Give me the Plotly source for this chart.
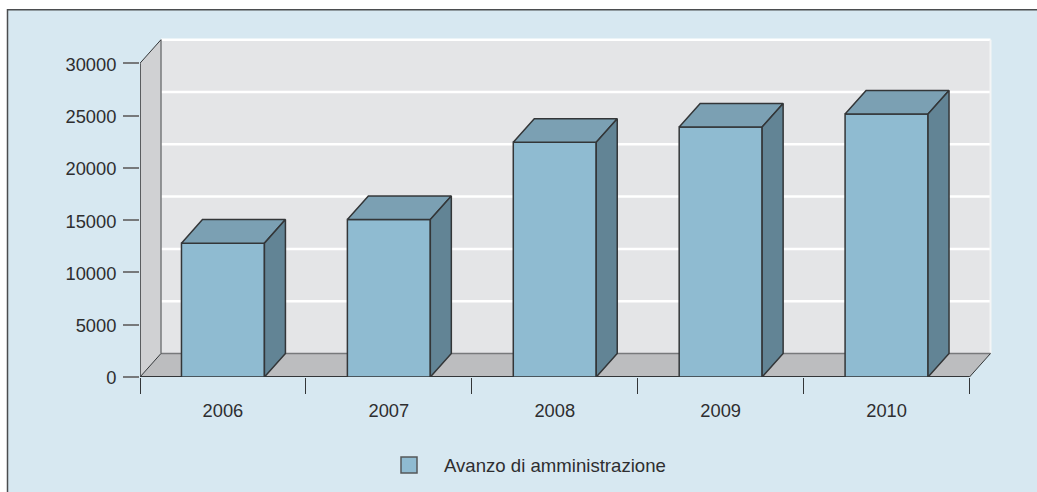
import plotly.graph_objects as go

# Data
years = ["2006", "2007", "2008", "2009", "2010"]
avanzo = [12800, 15050, 22450, 23900, 25150]
y_ticks = [0, 5000, 10000, 15000, 20000, 25000, 30000]
series_name = "Avanzo di amministrazione"

# Style
BG, OUT = "#d7e8f1", "#ffffff"
WALL, SIDEWALL, FLOOR = "#e4e5e7", "#d0d1d3", "#bcbdbf"
FRONT, TOP, SIDE = "#8fbbd1", "#7ba0b3", "#628495"
DARK, GREY, TXT = "#333638", "#77797b", "#2e2e30"
FONT = "Liberation Sans, Arial, sans-serif"
W, H = 1037, 492
ML, MR, MT, MB = 140, 41, 36.1, 115.3
UNIT = 165.9
BAR_W = 0.5
DX = 21 / UNIT      # oblique depth, x units
DY = 23.5 * 30000 / 313.4  # oblique depth, y units
X0, X1 = -0.5, len(years) - 0.5
Y_TOP = y_ticks[-1]
PW, PH = W - ML - MR, H - MT - MB


def px(v):
    return (v - ML) / PW


def py(v):
    return 1 - (v - MT) / PH


def poly(xs, ys):
    pts = list(zip(xs, ys))
    return "M" + "L".join(f"{a},{b}" for a, b in pts) + "Z"


shapes = [
    dict(type="rect", xref="paper", yref="paper", x0=px(7.5), x1=px(W + 20), y0=py(H + 20), y1=py(10),
         fillcolor=BG, line=dict(color="#4b4d4f", width=1.5), layer="below"),
    dict(type="rect", xref="x", yref="y", x0=X0 + DX, x1=X1 + DX, y0=DY, y1=Y_TOP + DY,
         fillcolor=WALL, line=dict(width=0), layer="below"),
    dict(type="path", xref="x", yref="y", layer="below", fillcolor=SIDEWALL, line=dict(width=0),
         path=poly([X0, X0 + DX, X0 + DX, X0], [0, DY, Y_TOP + DY, Y_TOP])),
]
for v in y_ticks[1:]:
    shapes.append(dict(type="line", xref="x", yref="y", x0=X0 + DX, x1=X1 + DX, y0=v + DY, y1=v + DY,
                       line=dict(color="#ffffff", width=2.5), layer="below"))
shapes += [
    dict(type="line", xref="x", yref="y", x0=X1 + DX, x1=X1 + DX, y0=DY, y1=Y_TOP + DY,
         line=dict(color="#f4f5f6", width=2), layer="below"),
    dict(type="path", xref="x", yref="y", layer="below", fillcolor=FLOOR, line=dict(width=0),
         path=poly([X0, X0 + DX, X1 + DX, X1], [0, DY, DY, 0])),
    dict(type="line", xref="x", yref="y", x0=X0 + DX, x1=X1 + DX, y0=DY, y1=DY,
         line=dict(color=GREY, width=1.5), layer="below"),
    dict(type="line", xref="x", yref="y", x0=X0 + DX, x1=X0 + DX, y0=DY, y1=Y_TOP + DY,
         line=dict(color=GREY, width=1.5), layer="below"),
    dict(type="line", xref="x", yref="y", x0=X0, x1=X0 + DX, y0=Y_TOP, y1=Y_TOP + DY,
         line=dict(color=DARK, width=1), layer="below"),
    dict(type="line", xref="x", yref="y", x0=X0, x1=X0 + DX, y0=0, y1=DY,
         line=dict(color=DARK, width=1), layer="below"),
    dict(type="line", xref="x", yref="y", x0=X1, x1=X1 + DX, y0=0, y1=DY,
         line=dict(color=DARK, width=1), layer="below"),
    dict(type="line", xref="x", yref="y", x0=X0, x1=X0, y0=0, y1=Y_TOP,
         line=dict(color=DARK, width=1.5), layer="below"),
    dict(type="line", xref="x", yref="y", x0=X0, x1=X1, y0=0, y1=0,
         line=dict(color=DARK, width=2), layer="below"),
]

fig = go.Figure()
xs = list(range(len(years)))
fig.add_trace(go.Bar(x=xs, y=avanzo, width=BAR_W, marker=dict(color=FRONT, line=dict(color=DARK, width=1.5)),
                     showlegend=False, hoverinfo="skip"))
for x, v in zip(xs, avanzo):
    l, r = x - BAR_W / 2, x + BAR_W / 2
    fig.add_trace(go.Scatter(x=[l, l + DX, r + DX, r, l], y=[v, v + DY, v + DY, v, v], mode="lines",
                             fill="toself", fillcolor=TOP, line=dict(color=DARK, width=1.5),
                             showlegend=False, hoverinfo="skip"))
    fig.add_trace(go.Scatter(x=[r, r + DX, r + DX, r, r], y=[0, DY, v + DY, v, 0], mode="lines",
                             fill="toself", fillcolor=SIDE, line=dict(color=DARK, width=1.5),
                             showlegend=False, hoverinfo="skip"))
fig.add_trace(go.Scatter(x=[None], y=[None], mode="markers", name=series_name,
                         marker=dict(symbol="square", size=16, color=FRONT, line=dict(color="#55585a", width=1.5))))

fig.update_layout(
    width=W, height=H, margin=dict(l=ML, r=MR, t=MT, b=MB, pad=0, autoexpand=False),
    paper_bgcolor=OUT, plot_bgcolor="rgba(0,0,0,0)",
    font=dict(family=FONT, size=18.3, color=TXT),
    shapes=shapes, showlegend=True,
    legend=dict(x=px(374), y=py(465), xanchor="left", yanchor="middle",
                itemwidth=60, bgcolor="rgba(0,0,0,0)", font=dict(size=18.6), itemclick=False, itemdoubleclick=False),
    xaxis=dict(range=[X0, X0 + PW / UNIT], tickmode="array", tickvals=xs, ticktext=years,
               ticks="outside", ticklen=17, tickcolor="rgba(0,0,0,0)", showgrid=False, zeroline=False, showline=False,
               minor=dict(tickmode="array", tickvals=[x - 0.5 for x in xs] + [X1], ticks="outside", ticklen=16,
                          tickcolor=DARK, tickwidth=1, showgrid=False)),
    yaxis=dict(range=[0, PH * 30000 / 313.4], tickmode="array", tickvals=y_ticks,
               ticktext=[str(v) for v in y_ticks], ticks="outside", ticklen=16, ticklabelstandoff=3,
               ticklabelshift=1,
               tickcolor=GREY, tickwidth=1.5, showgrid=False, zeroline=False, showline=False),
)
fig.write_html("out.html", config={"displayModeBar": False}, post_script="document.body.style.margin='0';")
